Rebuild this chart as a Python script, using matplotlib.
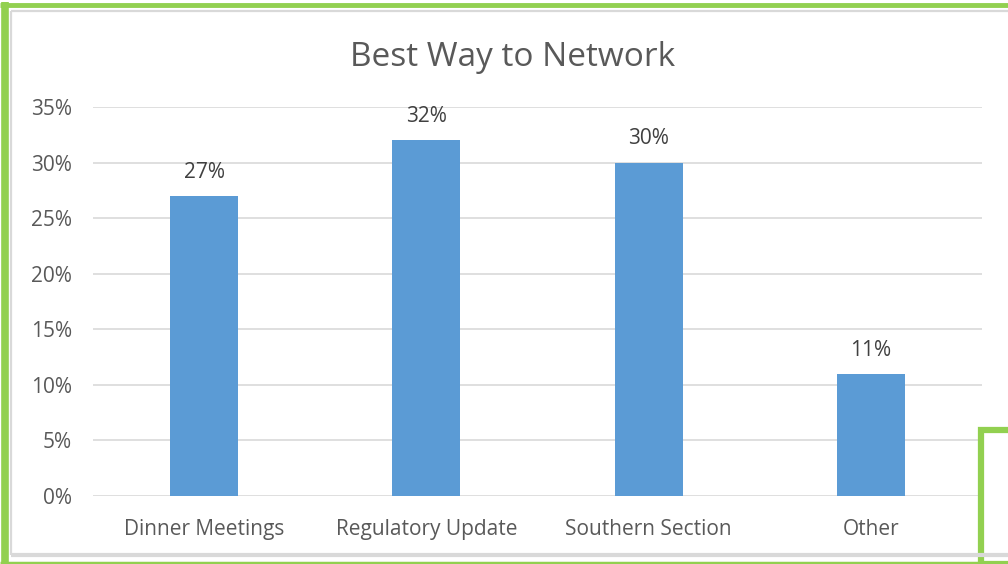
"""Best Way to Network - bar chart recreation."""

import matplotlib.pyplot as plt
from matplotlib.lines import Line2D
from matplotlib.patches import Rectangle
from matplotlib.ticker import FuncFormatter, MultipleLocator

CATEGORIES = ["Dinner Meetings", "Regulatory Update", "Southern Section", "Other"]
SHARES = [0.27, 0.32, 0.30, 0.11]
LABELS = ["27%", "32%", "30%", "11%"]

BAR_COLOR = "#5b9bd5"
TEXT_COLOR = "#595959"
GRID_COLOR = "#d9d9d9"
GREEN = "#92d050"

W, H = 1008, 564

plt.rcParams["font.family"] = ["Open Sans", "DejaVu Sans"]

fig = plt.figure(figsize=(W / 100, H / 100), dpi=100)
ax = fig.add_axes([93 / W, 1 - 496 / H, (982 - 93) / W, (496 - 107) / H])

x = range(len(CATEGORIES))
bars = ax.bar(x, SHARES, width=0.306, color=BAR_COLOR, zorder=3)
for rect, lab in zip(bars, LABELS):
    ax.annotate(lab, (rect.get_x() + rect.get_width() / 2, rect.get_height()),
                xytext=(0, 17), textcoords="offset points", ha="center",
                va="center", fontsize=15, color="#404040")

ax.set_xlim(-0.5, 3.5)
ax.set_ylim(0, 0.35)
ax.yaxis.set_major_locator(MultipleLocator(0.05))
ax.yaxis.set_major_formatter(FuncFormatter(lambda v, _: f"{v * 100:.0f}%"))
ax.set_xticks(list(x))
ax.set_xticklabels(CATEGORIES)
ax.tick_params(axis="both", length=0, labelsize=15, colors=TEXT_COLOR)
ax.tick_params(axis="y", pad=15)
ax.tick_params(axis="x", pad=16.5)
ax.grid(axis="y", color=GRID_COLOR, linewidth=1.2, zorder=0)
for s in ax.spines.values():
    s.set_visible(False)

fig.text(513 / W, 1 - 58 / H, "Best Way to Network", ha="center", va="center",
         fontsize=24, color=TEXT_COLOR)


# decorative frame: gray inner border and green outline
def px_line(x0, y0, x1, y1, color, lw):
    fig.add_artist(Line2D([x0 / W, x1 / W], [1 - y0 / H, 1 - y1 / H],
                          transform=fig.transFigure, color=color, linewidth=lw,
                          solid_capstyle="butt"))


px_line(11, 11, W, 11, GRID_COLOR, 1.6)
px_line(11, 11, 11, 555, GRID_COLOR, 1.6)
px_line(11, 555, W, 555, GRID_COLOR, 3)

px_line(4.5, 2, 4.5, H, GREEN, 5.5)
px_line(0, 5, W, 5, GREEN, 3.5)
px_line(0, 562.5, W, 562.5, GREEN, 2.5)
fig.add_artist(Rectangle((981 / W, 0), 30 / W, 1 - 430 / H,
                         transform=fig.transFigure, facecolor="none",
                         edgecolor=GREEN, linewidth=4.5))

fig.savefig("out.png", dpi=100)
